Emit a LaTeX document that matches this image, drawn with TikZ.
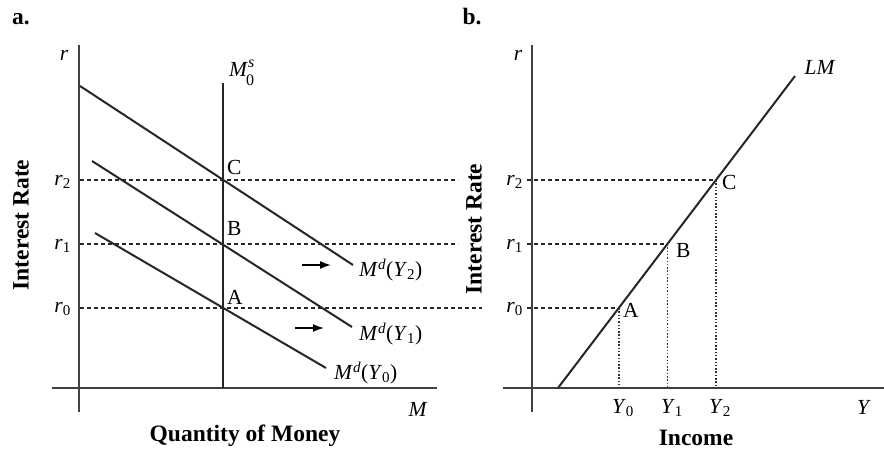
\documentclass[tikz,border=0pt]{standalone}
\usepackage{fontspec}
\setmainfont{Liberation Serif}
\usetikzlibrary{arrows.meta}
\newcommand{\ital}[1]{\textit{#1}}
\begin{document}
\begin{tikzpicture}[x=1pt,y=-1pt,
  axisline/.style={line width=2.1pt,black!75},
  curve/.style={line width=2pt,black!85},
  guide/.style={line width=1.3pt,black!85,dash pattern=on 4pt off 3pt},
  dotguide/.style={line width=1.6pt,black!80,dash pattern=on 1.5pt off 1.8pt},
  lbl/.style={font=\fontsize{21.5}{24}\selectfont,inner sep=0pt},
  scr/.style={font=\fontsize{16}{18}\selectfont,inner sep=0pt},
  ttl/.style={font=\fontsize{23.5}{26}\selectfont\bfseries,inner sep=0pt},
  shiftarrow/.style={-{Latex[length=11pt,width=8pt]},line width=1.6pt}]
\useasboundingbox (0,0) rectangle (884,452);
% ---------- panel a ----------
\node[ttl] (ta) at (21,19) {a.};
\coordinate (ay0) at (79,412); \coordinate (ay1) at (79,45);
\coordinate (ax0) at (52,388); \coordinate (ax1) at (437,388);
\draw[axisline] (ay0) -- (ay1);
\draw[axisline] (ax0) -- (ax1);
\node[lbl] (ra) at (64,55) {\ital{r}};
\node[lbl] (Ma) at (418,409) {\ital{M}};
\node[ttl] (qm) at (245,436) {Quantity of Money};
\node[ttl,rotate=90] (ira) at (21,225) {Interest Rate};
% money supply
\coordinate (ms0) at (223,388); \coordinate (ms1) at (223,83);
\draw[curve] (ms0) -- (ms1);
\node[lbl,anchor=base west] (msM) at (229,77) {\ital{M}};
\node[scr,anchor=base west] (msS) at (248,67.5) {\ital{s}};
\node[scr,anchor=base west] (ms0l) at (246,85.5) {0};
% money demand curves
\coordinate (d2a) at (80,86);  \coordinate (d2b) at (353,265);
\coordinate (d1a) at (92,161); \coordinate (d1b) at (352,327);
\coordinate (d0a) at (95,233); \coordinate (d0b) at (326,368);
\draw[curve] (d2a) -- (d2b);
\draw[curve] (d1a) -- (d1b);
\draw[curve] (d0a) -- (d0b);
\node[lbl,anchor=west] (ld2) at (359,270) {\ital{M}\textsuperscript{\ital{d}}(\ital{Y}\textsubscript{2})};
\node[lbl,anchor=west] (ld1) at (359,334) {\ital{M}\textsuperscript{\ital{d}}(\ital{Y}\textsubscript{1})};
\node[lbl,anchor=west] (ld0) at (334,373) {\ital{M}\textsuperscript{\ital{d}}(\ital{Y}\textsubscript{0})};
% shift arrows
\coordinate (s2a) at (302,265); \coordinate (s2b) at (331,265);
\coordinate (s1a) at (295,328); \coordinate (s1b) at (324,328);
\draw[shiftarrow] (s2a) -- (s2b);
\draw[shiftarrow] (s1a) -- (s1b);
% equilibrium points
\coordinate (Ca) at (223,180);
\coordinate (Ba) at (223,244);
\coordinate (Aa) at (223,308);
\node[lbl,anchor=west] (lCa) at (227,167) {C};
\node[lbl,anchor=west] (lBa) at (227,228) {B};
\node[lbl,anchor=west] (lAa) at (227,297) {A};
% r labels a
\node[lbl,anchor=base east] (r2a) at (71,185) {\ital{r}\textsubscript{2}};
\node[lbl,anchor=base east] (r1a) at (71,249) {\ital{r}\textsubscript{1}};
\node[lbl,anchor=base east] (r0a) at (71,312) {\ital{r}\textsubscript{0}};
% ---------- panel b ----------
\node[ttl] (tb) at (472,17) {b.};
\coordinate (by0) at (532,412); \coordinate (by1) at (532,45);
\coordinate (bx0) at (503,388); \coordinate (bx1) at (884,388);
\draw[axisline] (by0) -- (by1);
\draw[axisline] (bx0) -- (bx1);
\node[lbl] (rb) at (518,55) {\ital{r}};
\node[lbl] (Yb) at (864,407) {\ital{Y}};
\node[ttl] (inc) at (696,438) {Income};
\node[ttl,rotate=90] (irb) at (474,229) {Interest Rate};
\coordinate (lm0) at (558,388); \coordinate (lm1) at (795,76);
\draw[curve] (lm0) -- (lm1);
\node[lbl] (lml) at (820,67) {\ital{LM}};
\coordinate (Cb) at (716,180);
\coordinate (Bb) at (667.4,244);
\coordinate (Ab) at (618.8,308);
\coordinate (Cbx) at (716,388);
\coordinate (Bbx) at (667.4,388);
\coordinate (Abx) at (618.8,388);
\node[lbl,anchor=west] (lCb) at (722,182) {C};
\node[lbl,anchor=west] (lBb) at (676,250) {B};
\node[lbl,anchor=west] (lAb) at (623,310) {A};
\node[lbl,anchor=base east] (r2b) at (523,185) {\ital{r}\textsubscript{2}};
\node[lbl,anchor=base east] (r1b) at (523,249) {\ital{r}\textsubscript{1}};
\node[lbl,anchor=base east] (r0b) at (523,312) {\ital{r}\textsubscript{0}};
\node[lbl,anchor=base] (y0l) at (623,413) {\ital{Y}\textsubscript{0}};
\node[lbl,anchor=base] (y1l) at (672,413) {\ital{Y}\textsubscript{1}};
\node[lbl,anchor=base] (y2l) at (720,413) {\ital{Y}\textsubscript{2}};
% dotted verticals
\draw[dotguide] (Cb) -- (Cbx);
\draw[dotguide] (Bb) -- (Bbx);
\draw[dotguide] (Ab) -- (Abx);
% dashed horizontals
\coordinate (g2a) at (80,180); \coordinate (g2m) at (458,180); \coordinate (g2n) at (527,180);
\coordinate (g1a) at (80,244); \coordinate (g1m) at (458,244); \coordinate (g1n) at (527,244);
\coordinate (g0a) at (80,308); \coordinate (g0m) at (482,308); \coordinate (g0n) at (527,308);
\draw[guide] (g2a) -- (g2m); \draw[guide] (g2n) -- (Cb);
\draw[guide] (g1a) -- (g1m); \draw[guide] (g1n) -- (Bb);
\draw[guide] (g0a) -- (g0m); \draw[guide] (g0n) -- (Ab);
\end{tikzpicture}
\end{document}
